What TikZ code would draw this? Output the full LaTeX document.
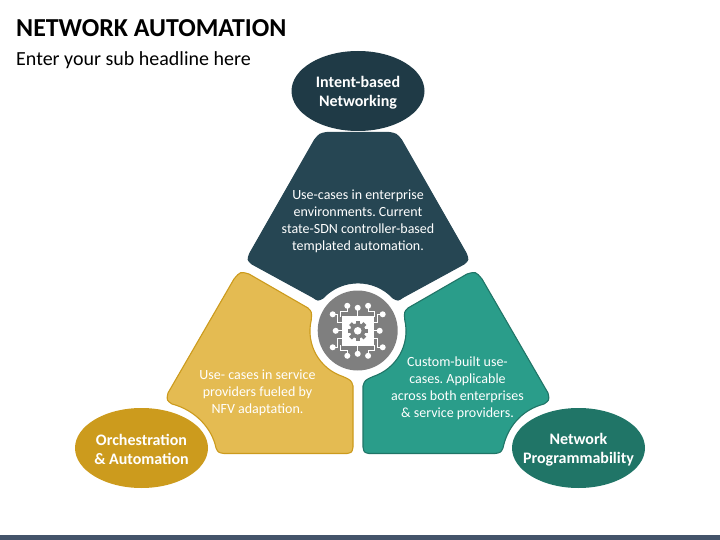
\documentclass[tikz,border=0pt]{standalone}
\usepackage{fontspec}
\setmainfont{Carlito}
\definecolor{navy}{HTML}{264653}
\definecolor{navydk}{HTML}{1F3A46}
\definecolor{gold}{HTML}{E4BB52}
\definecolor{golddk}{HTML}{CC9B1D}
\definecolor{teal}{HTML}{2A9D8A}
\definecolor{tealdk}{HTML}{207567}
\definecolor{iconbg}{HTML}{7F7F7F}
\definecolor{barcol}{HTML}{44546A}
\usetikzlibrary{shapes.geometric}
\tikzset{
  petal/.style={line width=1.1pt,line join=round},
  oval/.style={ellipse,minimum width=133pt,minimum height=80pt,inner sep=0pt},
  ovaltext/.style={text=white,align=center,inner sep=0pt,font=\frenchspacing\fontsize{16}{19}\selectfont\bfseries},
  bodytext/.style={text=white,align=center,inner sep=0pt,font=\frenchspacing\fontsize{14}{17}\selectfont},
  trace/.style={draw=white,line width=0.9pt,line join=miter},
  pin/.style={fill=white,draw=none},
}
\begin{document}
\begin{tikzpicture}[x=1pt,y=-1pt]
\useasboundingbox (0,0) rectangle (720,540);
\fill[barcol] (0,535) rectangle (720,540);

\node[anchor=base west,inner sep=0pt,font=\fontsize{25.9}{30}\selectfont\bfseries] (title) at (16,36.5) {NETWORK AUTOMATION};
\node[anchor=base west,inner sep=0pt,font=\fontsize{20}{24}\selectfont] (sub) at (16,65.7) {Enter your sub headline here};

% petals
\draw[petal,fill=navy,draw=navy] (327,132.5) -- (389,132.5) .. controls (396.4,133.75) .. (401.5,140)
  -- (466,253) .. controls (468.7,260) .. (464,264) -- (403,297.3)
  .. controls (398,300.8) .. (393,298)
  .. controls (374.1,277.8) and (341.9,277.8) .. (323,298)
  .. controls (318,300.8) .. (313,297.3) -- (252,264)
  .. controls (247.3,260) .. (250,253) -- (314.5,140) .. controls (319.6,133.75) .. cycle;

\draw[petal,fill=gold,draw=golddk] (234,279) .. controls (240.3,271.5) .. (249,274) -- (308,308)
  .. controls (311.9,312) .. (311.2,320.2)
  .. controls (305.6,344.5) and (319.4,368.9) .. (343.1,376.6)
  .. controls (351.3,380.4) .. (353,386) -- (353,447) .. controls (352,452.4) .. (347,453.5)
  -- (224,453.5) .. controls (218.3,452.6) .. (216,448)
  .. controls (212,428) and (195,410) .. (172,404)
  .. controls (166.5,400.2) .. (168,393) -- cycle;

\draw[petal,fill=teal,draw=tealdk] (482,279) .. controls (475.7,271.5) .. (467,274) -- (408,308)
  .. controls (404.1,312) .. (404.8,320.2)
  .. controls (410.4,344.5) and (396.6,368.9) .. (372.9,376.6)
  .. controls (364.7,380.4) .. (363,386) -- (363,447) .. controls (364,452.4) .. (369,453.5)
  -- (495,453.5) .. controls (500.7,452.6) .. (503,448)
  .. controls (507,428) and (521,410) .. (544,404)
  .. controls (549.5,400.2) .. (548,393) -- cycle;

% ovals
\node[oval,fill=navydk] (ovaltop) at (358,91) {};
\node[oval,fill=golddk] (ovalleft) at (141.5,448) {};
\node[oval,fill=tealdk] (ovalright) at (578.5,448) {};
\node[ovaltext] (lbltop) at (358,92.5) {Intent-based\\Networking};
\node[ovaltext] (lblleft) at (141.5,449.5) {Orchestration\\\& Automation};
\node[ovaltext] (lblright) at (578.5,449.5) {Network\\Programmability};

% body text
\node[bodytext] (txtblue) at (358,221.5) {Use-cases in enterprise\\environments. Current\\state-SDN controller-based\\templated automation.};
\node[bodytext] (txtgold) at (257.5,392.5) {Use- cases in service\\providers fueled by\\NFV adaptation.};
\node[bodytext] (txtteal) at (457.5,388.5) {Custom-built use-\\cases. Applicable\\across both enterprises\\\& service providers.};

% icon
\node[circle,fill=iconbg,minimum size=80pt,inner sep=0pt] (hub) at (357.7,330.5) {};
\fill[white] (341.7,316) rectangle (373.7,345.6);
\fill[iconbg] (357.7,330.8) circle (7.6);
\foreach \a in {0,45,...,315}{
  \fill[iconbg,shift={(357.7,330.8)},rotate=\a] (-2,-10.2) rectangle (2,-6);
}
\fill[white] (357.7,330.8) circle (3.8);
% traces
\foreach \mx/\my in {1/1,-1/1,1/-1,-1/-1}{
  \begin{scope}[shift={(357.7,330.8)},xscale=\mx,yscale=\my]
    \draw[trace] (10.4,-25) -- (10.4,-19.5) -- (17,-19.5) -- (17,-14);
    \draw[trace] (25,-16.5) -- (20,-16.5) -- (20,-8) -- (15.5,-8);
    \fill[pin] (10.4,-25) circle (3);
    \fill[pin] (25,-16.5) circle (3);
  \end{scope}
}
\foreach \a/\r in {0/23,90/22,180/23,270/22}{
  \begin{scope}[shift={(357.7,330.8)},rotate=\a]
    \draw[trace] (0,-\r) -- (0,-14);
    \fill[pin] (0,-\r) circle (3);
  \end{scope}
}
\end{tikzpicture}
\end{document}
